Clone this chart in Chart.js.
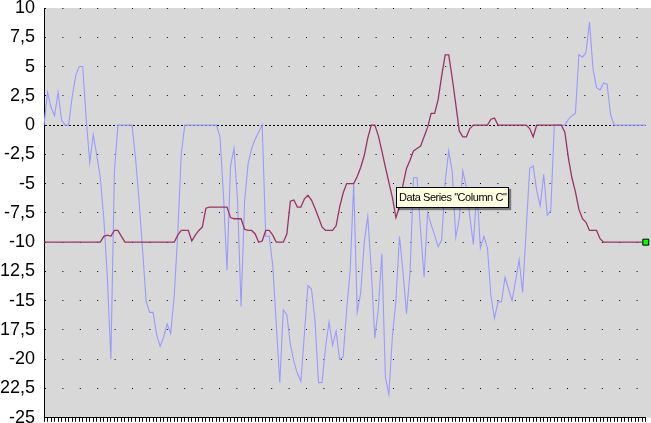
<!DOCTYPE html>
<html>
<head>
<meta charset="utf-8">
<title>Column B / Column C</title>
<script src="https://cdn.jsdelivr.net/npm/chart.js@4.4.0/dist/chart.umd.min.js"></script>
<style>
    html, body { margin: 0; padding: 0; background: #fff; }
    #wrap { position: relative; width: 651px; height: 423px; overflow: hidden; }
    #tip {
        position: absolute; left: 396px; top: 187px;
        width: 113px; height: 21px; box-sizing: border-box;
        border: 1px solid #000; background: #FFFFE1;
        box-shadow: 2px 2px 1px rgba(0, 0, 0, 0.45);
        font: 11px "Liberation Sans", Arial, sans-serif; letter-spacing: -0.45px;
        line-height: 19px; padding-left: 2px; color: #000; white-space: nowrap;
    }
</style>
</head>
<body>
<div id="wrap">
    <canvas id="chart" width="651" height="423"></canvas>
    <div id="tip">Data Series "Column C"</div>
</div>
<script>
// Values, one per category
const columnB = [
    0, 2.8, 1.5, 0.8, 2.8, 0.4, 0, 0, 2.4, 4.2,
    5, 5, 0.5, -3.2, -0.8, -2.6, -4.5, -8, -13, -20,
    -4, 0, 0, 0, 0, 0, -2.8, -6.4, -10.6, -15,
    -16, -16, -17.9, -18.9, -18.1, -17, -17.8, -14.6, -9.3, -2.5,
    0, 0, 0, 0, 0, 0, 0, 0, 0, 0,
    -1, -6, -12.4, -3.5, -2, -6.5, -15.5, -6.5, -3.3, -2,
    -1.2, -0.6, 0, -9.5, -9.5, -12, -17, -22, -15.8, -16.2,
    -18.7, -20.2, -21.2, -21.9, -17.8, -13.7, -14, -16.7, -22, -22,
    -19, -16.8, -18.8, -17.6, -20, -19.8, -15.8, -12.4, -5, -16,
    -14.3, -10, -7.8, -12.4, -18.2, -15.7, -11, -21.5, -23, -18,
    -15, -9.5, -12.5, -16.1, -12.6, -4.5, -4.5, -9, -13, -7.5,
    -8.5, -9.4, -10.4, -9.8, -4.8, -2.2, -4, -9.6, -8, -3.9,
    -5.3, -7.8, -10.2, -5.5, -10.5, -9.5, -10.5, -14.6, -16.5, -15.1,
    -15.1, -13, -14, -15, -13.3, -11.5, -14.3, -9, -3.7, -3.5,
    -5.6, -6.9, -4.2, -7.7, -7.3, 0, 0, 0, 0, 0.5,
    0.8, 1, 6, 5.8, 6.2, 8.8, 4.8, 3.2, 3, 3.6,
    3.5, 0.9, 0, 0, 0, 0, 0, 0, 0, 0,
    0, 0
];

const columnC = [
    -10, -10, -10, -10, -10, -10, -10, -10, -10, -10,
    -10, -10, -10, -10, -10, -10, -10, -9.5, -9.4, -9.5,
    -9, -9, -9.5, -10, -10, -10, -10, -10, -10, -10,
    -10, -10, -10, -10, -10, -10, -10, -10, -9.4, -9,
    -9, -9, -9.9, -9.4, -9, -8.7, -7.1, -7, -7, -7,
    -7, -7, -7, -7.9, -8, -8, -8, -8.9, -9, -9,
    -9.3, -10, -9.9, -9, -9, -9.4, -10, -10, -10, -9.3,
    -6.5, -6.4, -7, -7, -6.3, -6, -6.4, -7.1, -7.9, -8.7,
    -9, -9, -9, -8.6, -7, -5.8, -5, -5, -5, -4.4,
    -3.6, -2.6, -1.1, 0, 0, -0.9, -2.2, -3.6, -4.9, -6.2,
    -7.9, -7, -5.1, -3.7, -3, -2.2, -2, -1.8, -1, -0.2,
    1, 1, 2.2, 4.2, 6, 6, 4, 1.8, -0.5, -1,
    -1, -0.3, 0, 0, 0, 0, 0, 0.5, 0.6, 0,
    0, 0, 0, 0, 0, 0, 0, 0, -0.3, -1,
    0, 0, 0, 0, 0, 0, 0, 0, -0.6, -2.8,
    -4.5, -5.7, -7.2, -8, -8.3, -9, -9, -9, -9.7, -10,
    -10, -10, -10, -10, -10, -10, -10, -10, -10, -10,
    -10, -10
];

const categories = columnB.map((_, i) => String(i + 1));
const yTickValues = [10, 7.5, 5, 2.5, 0, -2.5, -5, -7.5, -10, -12.5, -15, -17.5, -20, -22.5, -25];

// grey plot area, running to the right edge of the canvas
const plotBackground = {
    id: 'plotBackground',
    beforeDraw(chart) {
        const { ctx, chartArea } = chart;
        ctx.save();
        ctx.fillStyle = '#D8D8D8';
        ctx.fillRect(chartArea.left, chartArea.top, chart.width - chartArea.left, chartArea.bottom - chartArea.top);
        ctx.restore();
    }
};

new Chart(document.getElementById('chart'), {
    type: 'line',
    data: {
        labels: categories,
        datasets: [
            {
                label: 'Column C',
                data: columnC,
                borderColor: '#993366',
                borderWidth: 1.3,
                tension: 0,
                clip: false,
                pointStyle: 'rect',
                pointRadius: ctx => ctx.dataIndex === columnC.length - 1 ? 4.2 : 0,
                pointBackgroundColor: '#00FF00',
                pointBorderColor: '#000',
                pointBorderWidth: 1
            },
            {
                label: 'Column B',
                data: columnB,
                borderColor: '#9999FF',
                borderWidth: 1.1,
                tension: 0,
                pointRadius: 0
            }
        ]
    },
    options: {
        responsive: false,
        animation: false,
        events: [],
        layout: { padding: { top: 8, right: 2, left: 0, bottom: 0 } },
        plugins: {
            legend: { display: false },
            tooltip: { enabled: false }
        },
        scales: {
            x: {
                type: 'category',
                offset: false,
                afterFit: s => { s.height = 5; s.paddingLeft = 0; s.paddingRight = 0; },
                grid: { drawOnChartArea: false, drawTicks: true, tickLength: 4, color: '#000', lineWidth: 1 },
                border: { display: true, color: '#000', width: 1 },
                ticks: { display: false }
            },
            y: {
                min: -25,
                max: 10,
                afterBuildTicks: s => { s.ticks = yTickValues.map(v => ({ value: v })); },
                afterFit: s => { s.width = 44; s.paddingTop = 0; s.paddingBottom = 0; },
                grid: { drawTicks: false, color: '#000', lineWidth: 1 },
                border: {
                    display: true, color: '#000', width: 1,
                    dash: ctx => (ctx.tick && ctx.tick.value === 0) ? [2, 2] : [1, 16.4]
                },
                ticks: {
                    padding: 9,
                    color: '#000',
                    font: { family: '"Liberation Sans", Arial, sans-serif', size: 18 },
                    callback: v => String(v).replace('.', ',')
                }
            }
        }
    },
    plugins: [plotBackground]
});
</script>
</body>
</html>
